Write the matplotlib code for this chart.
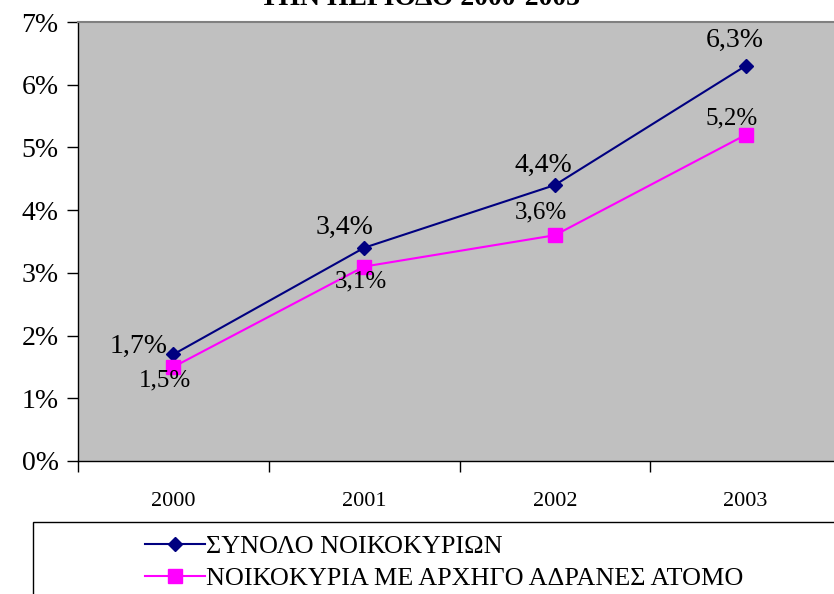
import matplotlib
matplotlib.use("Agg")
import matplotlib.pyplot as plt
from matplotlib.ticker import FixedLocator
from matplotlib.patches import Rectangle

years = ["2000", "2001", "2002", "2003"]
total = [1.7, 3.4, 4.4, 6.3]
inactive = [1.5, 3.1, 3.6, 5.2]
total_labels = ["1,7%", "3,4%", "4,4%", "6,3%"]
inactive_labels = ["1,5%", "3,1%", "3,6%", "5,2%"]
y_ticks = [0, 1, 2, 3, 4, 5, 6, 7]
y_tick_labels = ["0%", "1%", "2%", "3%", "4%", "5%", "6%", "7%"]
series_names = ["ΣΥΝΟΛΟ ΝΟΙΚΟΚΥΡΙΩΝ", "ΝΟΙΚΟΚΥΡΙΑ ΜΕ ΑΡΧΗΓΟ ΑΔΡΑΝΕΣ ΑΤΟΜΟ"]
title = "ΤΗΝ ΠΕΡΙΟΔΟ 2000-2003"

plt.rcParams['font.family'] = ['Liberation Serif', 'DejaVu Serif']

W, H = 834, 594
fig = plt.figure(figsize=(W/100, H/100), dpi=100)
ax = fig.add_axes([78/W, (H-461)/H, 763/W, 439/H])
ax.set_facecolor('#C0C0C0')

x = list(range(len(years)))
l1, = ax.plot(x, total, color='#000080', marker='D', markersize=7, lw=1.5, label=series_names[0])
l2, = ax.plot(x, inactive, color='#FF00FF', marker='s', markersize=10, lw=1.5, label=series_names[1])

ax.set_xlim(-0.5, 3.5)
ax.set_ylim(0, 7)
ax.set_yticks(y_ticks)
ax.set_yticklabels(y_tick_labels, fontsize=20)
ax.set_xticks(x)
ax.set_xticklabels(years, fontsize=16)
ax.xaxis.set_minor_locator(FixedLocator([-0.5, 0.5, 1.5, 2.5]))
ax.tick_params(axis='x', which='major', length=0, pad=22)
ax.tick_params(axis='x', which='minor', length=8, width=1, direction='out')
ax.tick_params(axis='y', length=8, width=1, direction='out', pad=6)
for s in ['left', 'bottom']:
    ax.spines[s].set_color('black')
    ax.spines[s].set_linewidth(1)
ax.spines['top'].set_color('#808080')
ax.spines['top'].set_linewidth(1.5)
ax.spines['right'].set_visible(False)

tot_off = [(-25, 6), (-14, 15), (-8, 14), (-8, 18)]
ina_off = [(-6, -9.5), (-2, -10.5), (-10, 16.5), (-10, 11.5)]
for i in x:
    ax.annotate(total_labels[i], (i, total[i]), xytext=tot_off[i], textcoords='offset points',
                ha='center', va='center', fontsize=20)
    ax.annotate(inactive_labels[i], (i, inactive[i]), xytext=ina_off[i], textcoords='offset points',
                ha='center', va='center', fontsize=18)

fig.text(420/W, 1 - 5/H, title, ha='center', va='baseline', fontsize=20, fontweight='bold')

# legend frame
fig.patches.append(Rectangle((33/W, -0.05), 1.0, (H-522)/H + 0.05, transform=fig.transFigure,
                             facecolor='white', edgecolor='black', linewidth=1, zorder=0))
leg = fig.legend(handles=[l1, l2], loc='upper left', bbox_to_anchor=(145/W, 1 - 535/H),
                 frameon=False, fontsize=18.8, handlelength=2.3, handletextpad=0.05,
                 borderaxespad=0, labelspacing=0.33, borderpad=0)

fig.savefig('out.png', dpi=100)
